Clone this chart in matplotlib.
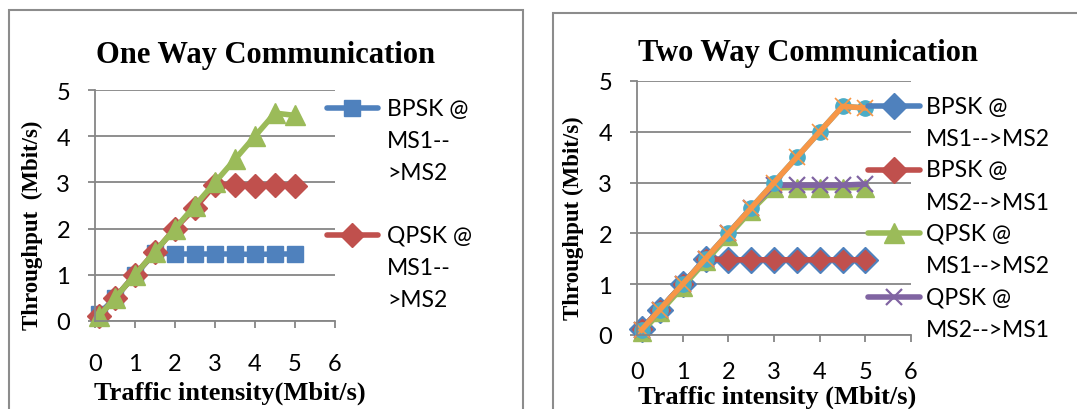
import matplotlib
matplotlib.use("Agg")
import matplotlib.pyplot as plt
from matplotlib.patches import Rectangle
from matplotlib.lines import Line2D

# ---------------- data ----------------
traffic = [0.1, 0.5, 1, 1.5, 2, 2.5, 3, 3.5, 4, 4.5, 5]

# One way communication
ow_bpsk = [0.15, 0.5, 1.0, 1.48, 1.45, 1.45, 1.45, 1.45, 1.44, 1.45, 1.45]
ow_qpsk = [0.1, 0.5, 1.0, 1.5, 2.0, 2.45, 2.95, 2.95, 2.93, 2.95, 2.93]
ow_third = [0.1, 0.5, 1.0, 1.5, 2.0, 2.5, 3.0, 3.5, 4.0, 4.5, 4.45]
ow_labels = ["BPSK @\nMS1--\n>MS2", "QPSK @\nMS1--\n>MS2"]

# Two way communication
tw_bpsk_12 = [0.12, 0.5, 1.0, 1.5, 1.48, 1.48, 1.48, 1.48, 1.48, 1.48, 1.48]
tw_bpsk_21 = [0.12, 0.5, 1.0, 1.5, 1.48, 1.48, 1.48, 1.48, 1.48, 1.48, 1.48]
tw_qpsk_12 = [0.05, 0.45, 0.95, 1.45, 1.95, 2.45, 2.9, 2.9, 2.9, 2.9, 2.9]
tw_qpsk_21 = [0.1, 0.5, 1.0, 1.5, 2.0, 2.5, 2.95, 2.95, 2.95, 2.95, 2.97]
tw_fifth = [0.1, 0.5, 1.0, 1.5, 2.0, 2.5, 3.0, 3.5, 4.0, 4.5, 4.47]
tw_sixth = [0.1, 0.5, 1.0, 1.5, 2.0, 2.5, 3.0, 3.5, 4.0, 4.5, 4.47]
tw_labels = ["BPSK @\nMS1-->MS2", "BPSK @\nMS2-->MS1", "QPSK @\nMS1-->MS2", "QPSK @\nMS2-->MS1"]

x_ticks = [0, 1, 2, 3, 4, 5, 6]
y_ticks = [0, 1, 2, 3, 4, 5]

# ---------------- style ----------------
W, H = 1077, 410
BLUE, RED, GREEN, PURPLE, AQUA, ORANGE = "#4F81BD", "#C0504D", "#9BBB59", "#8064A2", "#4BACC6", "#F79646"
GRID = "#868686"
SANS = "Lato"
SERIF = "Liberation Serif"
TICK_FS = 17
LEG_FS = 16.5
LEG_LS = 1.65

fig = plt.figure(figsize=(W / 100, H / 100), dpi=100)


def fx(px):
    return px / W


def fy(py):
    return 1 - py / H


def make_axes(l, r, t, b, xpad):
    ax = fig.add_axes([fx(l), fy(b), fx(r) - fx(l), fy(t) - fy(b)])
    ax.set_xlim(0, 6)
    ax.set_ylim(0, 5)
    ax.set_xticks(x_ticks)
    ax.set_yticks(y_ticks)
    ax.set_facecolor("none")
    for s in ("top", "right"):
        ax.spines[s].set_visible(False)
    for s in ("left", "bottom"):
        ax.spines[s].set_color(GRID)
        ax.spines[s].set_linewidth(1.3)
    ax.yaxis.grid(True, color=GRID, linewidth=1.3)
    ax.set_axisbelow(True)
    ax.tick_params(axis="both", direction="out", length=5, width=1.3, color=GRID,
                   labelsize=TICK_FS)
    ax.tick_params(axis="y", pad=13)
    ax.tick_params(axis="x", pad=xpad)
    for lab in ax.get_xticklabels() + ax.get_yticklabels():
        lab.set_fontfamily(SANS)
    return ax


# chart frames
fig.patches.append(Rectangle((fx(9), fy(430)), fx(523) - fx(9), fy(11) - fy(430),
                             transform=fig.transFigure, fill=False, edgecolor="#8c8c8c",
                             linewidth=1.5))
fig.patches.append(Rectangle((fx(553), fy(430)), fx(1100) - fx(553), fy(14) - fy(430),
                             transform=fig.transFigure, fill=False, edgecolor="#8c8c8c",
                             linewidth=1.5))

# ---------- left chart ----------
ax1 = make_axes(95, 335, 91, 322, 18)
ax1.plot(traffic, ow_bpsk, color=BLUE, lw=4, marker="s", ms=12, mfc=BLUE, mec=BLUE, clip_on=False)
ax1.plot(traffic, ow_qpsk, color=RED, lw=4, marker="D", ms=12, mfc=RED, mec=RED, clip_on=False)
ax1.plot(traffic, ow_third, color=GREEN, lw=4, marker="^", ms=14, mfc=GREEN, mec=GREEN, clip_on=False)

fig.text(fx(266), fy(55), "One Way Communication", family=SERIF, weight="bold",
         fontsize=22, ha="center", va="center")
fig.text(fx(32), fy(225), "Throughput  (Mbit/s)", family=SERIF, weight="bold",
         fontsize=16.5, ha="center", va="center", rotation=90)
fig.text(fx(230), fy(393), "Traffic intensity(Mbit/s)", family=SERIF, weight="bold",
         fontsize=19, ha="center", va="center")

# legend (left)
for i, (lab, col, mk, ms) in enumerate(zip(ow_labels, [BLUE, RED], ["s", "D"], [12, 12])):
    yc = [109, 236][i]
    fig.add_artist(Line2D([fx(327), fx(378)], [fy(yc), fy(yc)], color=col, lw=4,
                          solid_capstyle="round", transform=fig.transFigure))
    fig.add_artist(Line2D([fx(352)], [fy(yc)], color=col, marker=mk, ms=ms, mfc=col, mec=col,
                          transform=fig.transFigure))
    fig.text(fx(387), fy(yc - 10), lab, family=SANS, fontsize=LEG_FS, ha="left", va="top",
             linespacing=LEG_LS)

# ---------- right chart ----------
ax2 = make_axes(637, 911, 82, 336, 14)
ax2.plot(traffic, tw_bpsk_12, color=BLUE, lw=4, marker="D", ms=13, mfc=BLUE, mec=BLUE, clip_on=False)
ax2.plot(traffic, tw_bpsk_21, color=RED, lw=4, marker="D", ms=10.5, mfc=RED, mec=RED, clip_on=False)
ax2.plot(traffic, tw_qpsk_12, color=GREEN, lw=4, marker="^", ms=13, mfc=GREEN, mec=GREEN, clip_on=False)
ax2.plot(traffic, tw_qpsk_21, color=PURPLE, lw=4, marker="x", ms=12, mew=1.6, mec=PURPLE, clip_on=False)
ax2.plot(traffic, tw_fifth, color=AQUA, lw=4, marker="o", ms=11, mfc=AQUA, mec=AQUA, clip_on=False)
ax2.plot(traffic, tw_sixth, color=ORANGE, lw=4, marker="x", ms=12, mew=1.2, mec=ORANGE, clip_on=False)

fig.text(fx(808), fy(53), "Two Way Communication", family=SERIF, weight="bold",
         fontsize=22, ha="center", va="center")
fig.text(fx(573), fy(218), "Throughput (Mbit/s)", family=SERIF, weight="bold",
         fontsize=16.5, ha="center", va="center", rotation=90)
fig.text(fx(777), fy(397), "Traffic intensity (Mbit/s)", family=SERIF, weight="bold",
         fontsize=19, ha="center", va="center")

mk2 = [("D", BLUE, 13, None), ("D", RED, 13, None), ("^", GREEN, 14, None), ("x", PURPLE, 12, 1.6)]
for i, lab in enumerate(tw_labels):
    yc = 107 + i * 63.5
    m, col, ms, mew = mk2[i]
    fig.add_artist(Line2D([fx(868), fx(920)], [fy(yc), fy(yc)], color=col, lw=4,
                          solid_capstyle="round", transform=fig.transFigure))
    kw = dict(mew=mew) if mew else {}
    fig.add_artist(Line2D([fx(894)], [fy(yc)], color=col, marker=m, ms=ms, mfc=col, mec=col,
                          transform=fig.transFigure, **kw))
    fig.text(fx(926), fy(yc - 10), lab, family=SANS, fontsize=LEG_FS, ha="left", va="top",
             linespacing=LEG_LS)

fig.savefig("out.png", dpi=100)
